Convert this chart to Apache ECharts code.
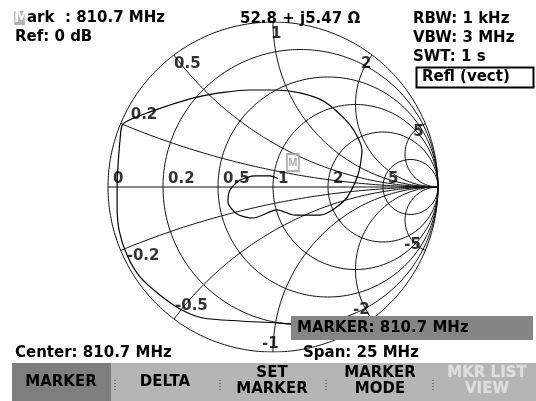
<!DOCTYPE html>
<html><head><meta charset="utf-8">
<script src="https://cdn.jsdelivr.net/npm/echarts@6/dist/echarts.min.js"></script>
<style>html,body{margin:0;padding:0;background:#fff;}#c{width:536px;height:401px;}</style>
</head><body><div id="c"></div>
<script>
// ---- data ----
var resistanceValues = [0.2, 0.5, 1, 2, 5];
var reactanceValues = [0.2, 0.5, 1, 2, 5, -0.2, -0.5, -1, -2, -5];
var realAxisLabels = ['0', '0.2', '0.5', '1', '2', '5'];
var realAxisLabelR = [0, 0.2, 0.5, 1, 2, 5];
var reactanceLabels = ['0.2', '0.5', '1', '2', '5', '-0.2', '-0.5', '-1', '-2', '-5'];
var traceRe = [0.164, 0.024, -0.200, -0.424, -0.564, -0.685, -0.806, -0.885, -0.933, -0.945, -0.945, -0.939, -0.927, -0.909, -0.745, -0.461, -0.139, 0.012, 0.164, 0.315, 0.467, 0.539, 0.515, 0.436, 0.285, 0.133, 0.024, -0.121, -0.218, -0.273, -0.261, -0.200, -0.109, -0.018, 0.030];
var traceIm = [-0.836, -0.824, -0.812, -0.794, -0.739, -0.655, -0.545, -0.412, -0.261, -0.109, 0.000, 0.133, 0.285, 0.382, 0.455, 0.545, 0.588, 0.588, 0.570, 0.515, 0.376, 0.224, 0.073, -0.079, -0.170, -0.170, -0.139, -0.188, -0.164, -0.091, -0.018, 0.042, 0.067, 0.067, 0.051];
var markerRe = 0.030, markerIm = 0.051;
var markerFreq = '810.7 MHz', markerImpedance = '52.8 + j5.47 Ω';
var centerFreq = '810.7 MHz', spanText = '25 MHz';
var settings = ['RBW: 1 kHz', 'VBW: 3 MHz', 'SWT: 1 s'];
var softkeys = [['MARKER'], ['DELTA'], ['SET', 'MARKER'], ['MARKER', 'MODE'], ['MKR LIST', 'VIEW']];

// ---- Smith grid geometry ----
function gamma(r, x) {
  var d = (r + 1) * (r + 1) + x * x;
  return [(r * r + x * x - 1) / d, (2 * x) / d];
}
var gridSeries = [];
function lineSeries(pts, extra) {
  var s = {type: 'line', data: pts, symbol: 'none', silent: true, animation: false,
    lineStyle: {color: '#111', width: 1}, z: 2};
  if (extra) for (var k in extra) s[k] = extra[k];
  return s;
}
var outer = [];
for (var i = 0; i <= 360; i++) { var a = i * Math.PI / 180; outer.push([Math.cos(a), Math.sin(a)]); }
gridSeries.push(lineSeries(outer));
gridSeries.push(lineSeries([[-1, 0], [1, 0]]));
resistanceValues.forEach(function (r) {
  var pts = [];
  for (var i = -200; i <= 200; i++) { var t = i / 200 * Math.PI / 2 * 0.999; pts.push(gamma(r, Math.tan(t))); }
  gridSeries.push(lineSeries(pts));
});
reactanceValues.forEach(function (x) {
  var pts = [];
  for (var i = 0; i <= 200; i++) { var t = i / 200 * Math.PI / 2 * 0.999; pts.push(gamma(Math.tan(t), x)); }
  gridSeries.push(lineSeries(pts));
});

var tracePts = traceRe.map(function (v, i) { return [v, traceIm[i]]; });

// label anchors
var realLabelData = realAxisLabelR.map(function (r, i) {
  var g = gamma(r, 0);
  return {value: [g[0], 0], name: realAxisLabels[i]};
});
var reactOffsets = {
  '0.2': [10, -16], '0.5': [0, 2], '1': [-2, 5], '2': [-11, 2], '5': [-12, 1],
  '-0.2': [6, -2], '-0.5': [1, -20], '-1': [-11, -15], '-2': [-19, -16], '-5': [-21, -13]
};
var reactLabelData = reactanceValues.map(function (x, i) {
  var g = gamma(0, x);
  var name = reactanceLabels[i];
  return {value: g, name: name, label: {position: reactOffsets[name]}};
});

var FONT = 'bold 15px "DejaVu Sans"';
var labelStyle = {show: true, formatter: '{b}', color: '#000', fontFamily: 'DejaVu Sans', fontWeight: 'bold', fontSize: 15, align: 'left', verticalAlign: 'top', padding: 0};

var chart = echarts.init(document.getElementById('c'), null, {renderer: 'canvas'});
var graphics = [];
function txt(x, y, s, extra) {
  var st = {text: s, font: FONT, fill: '#000', textAlign: 'left', textVerticalAlign: 'middle'};
  if (extra) for (var k in extra) st[k] = extra[k];
  graphics.push({type: 'text', x: x, y: y, z: 20, style: st});
}
function rect(x, y, w, h, fill, stroke, lw) {
  graphics.push({type: 'rect', z: 15, shape: {x: x, y: y, width: w, height: h},
    style: {fill: fill || 'none', stroke: stroke || null, lineWidth: lw || 1}});
}
// header
rect(14, 11, 11, 14, '#b3b3b3');
txt(14, 18, 'M', {fill: '#fff'});
txt(27, 18, 'ark  : ' + markerFreq);
txt(15, 37, 'Ref: 0 dB');
txt(240, 19, markerImpedance);
settings.forEach(function (s, i) { txt(413, 19 + i * 19, s); });
rect(416.5, 67.5, 117, 20, '#fff', '#000', 2);
txt(422, 77.5, 'Refl (vect)');
// footer
txt(15, 353, 'Center: ' + centerFreq);
txt(303, 353, 'Span: ' + spanText);
rect(291, 316, 242, 24, '#858585');
txt(297, 328.5, 'MARKER: ' + markerFreq);
rect(12, 363, 524, 38, '#b5b5b5');
rect(12, 363, 99, 38, '#7e7e7e');
var keyCenters = [61, 165, 272, 380, 487];
softkeys.forEach(function (lines, i) {
  var col = i === 4 ? '#dedede' : '#000';
  var extra = {textAlign: 'center', fill: col};
  if (i === 4) { extra.stroke = '#c8c8c8'; extra.lineWidth = 0.6; }
  if (lines.length === 1) txt(keyCenters[i], 382, lines[0], extra);
  else { txt(keyCenters[i], 373, lines[0], extra); txt(keyCenters[i], 389, lines[1], extra); }
});
[115, 220, 326, 433].forEach(function (x) {
  graphics.push({type: 'line', z: 16, shape: {x1: x, y1: 380, x2: x, y2: 392}, style: {stroke: '#333', lineWidth: 1, lineDash: [1, 2]}});
});

chart.setOption({
  animation: false,
  backgroundColor: '#fff',
  grid: {left: 108, top: 22, width: 330, height: 330},
  xAxis: {type: 'value', min: -1, max: 1, show: false},
  yAxis: {type: 'value', min: -1, max: 1, show: false},
  series: gridSeries.concat([
    {type: 'line', data: tracePts, symbol: 'none', smooth: 0.25, silent: true, lineStyle: {color: '#000', width: 1.2}, z: 5},
    {type: 'scatter', data: realLabelData, symbolSize: 0, silent: true, z: 10,
      label: Object.assign({}, labelStyle, {position: [5, -15]})},
    {type: 'scatter', data: reactLabelData, symbolSize: 0, silent: true, z: 10, label: labelStyle},
    {type: 'scatter', data: [[markerRe, markerIm]], symbol: 'rect', symbolSize: [12, 17], symbolOffset: [15, -16],
      itemStyle: {color: 'rgba(255,255,255,0.6)', borderColor: '#9a9a9a', borderWidth: 2}, z: 12,
      label: {show: true, formatter: 'M', position: 'inside', color: '#9a9a9a', fontSize: 11, fontWeight: 'bold'}}
  ]),
  graphic: graphics
});
</script></body></html>
